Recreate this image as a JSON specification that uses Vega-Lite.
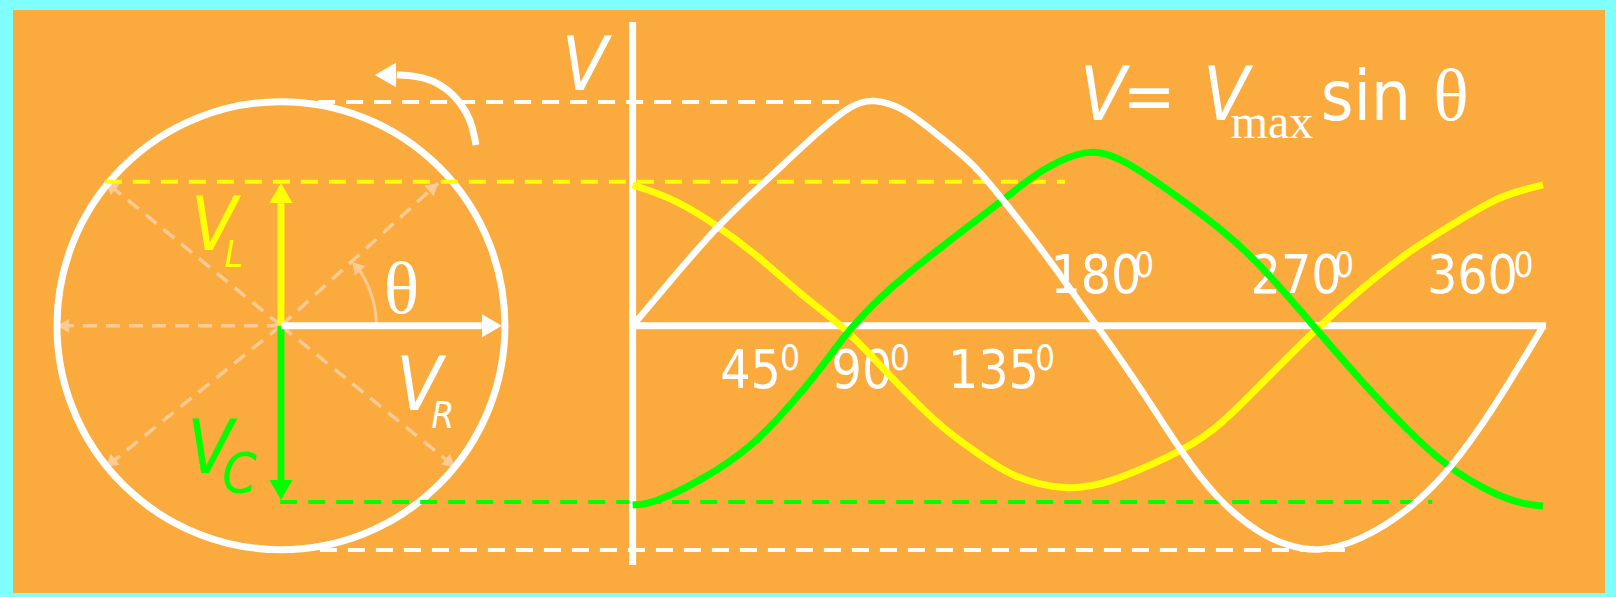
{
  "$schema": "https://vega.github.io/schema/vega-lite/v6.json",
  "width": 1616,
  "height": 597,
  "autosize": {"type": "fit", "contains": "padding"},
  "padding": {"left": 13, "top": 10, "right": 11, "bottom": 4},
  "background": "#80FFFF",
  "config": {"view": {"stroke": null, "fill": "#FBAA3E"}},
  "datasets": {
    "circle": [{"x": -139.0, "y": 0}],
    "spokes": [
      {"x": -139, "y": 0, "x2": -227.5, "y2": 0},
      {"x": -139, "y": 0, "x2": -208.1, "y2": 0.639},
      {"x": -139, "y": 0, "x2": -76.9, "y2": 0.635},
      {"x": -139, "y": 0, "x2": -208.1, "y2": -0.629},
      {"x": -139, "y": 0, "x2": -70.2, "y2": -0.629}
    ],
    "spokeHeads": [
      {"x": -225.1, "y": 0, "phase": 180},
      {"x": -206.4, "y": 0.623, "phase": 140.6},
      {"x": -78.7, "y": 0.618, "phase": 42.1},
      {"x": -206.4, "y": -0.612, "phase": 219.4},
      {"x": -72.1, "y": -0.612, "phase": 320.8},
      {"x": -109.3, "y": 0.264, "phase": 132}
    ],
    "thetaArc": [
      {"i": 0, "x": -101.1, "y": 0.0},
      {"i": 1, "x": -101.7, "y": 0.078},
      {"i": 2, "x": -103.4, "y": 0.149},
      {"i": 3, "x": -106.2, "y": 0.217},
      {"i": 4, "x": -108.3, "y": 0.254}
    ],
    "projections": [
      {"x": -124.3, "y": 0.996, "x2": 86, "y2": 0.996, "quantity": "VR"},
      {"x": -123.6, "y": -0.999, "x2": 281.6, "y2": -0.999, "quantity": "VR"},
      {"x": -208.6, "y": 0.641, "x2": 170.9, "y2": 0.641, "quantity": "VL"},
      {"x": -139.3, "y": -0.785, "x2": 316, "y2": -0.785, "quantity": "VC"}
    ],
    "phasors": [
      {"x": -139, "y": 0, "x2": -139, "y2": 0.546, "quantity": "VL"},
      {"x": -139, "y": 0, "x2": -139, "y2": -0.689, "quantity": "VC"},
      {"x": -139, "y": 0, "x2": -59.6, "y2": 0, "quantity": "VR"}
    ],
    "phasorHeads": [
      {"x": -139, "y": 0.591, "phase": 90, "quantity": "VL"},
      {"x": -139, "y": -0.732, "phase": 270, "quantity": "VC"},
      {"x": -55.6, "y": 0, "phase": 0, "quantity": "VR"}
    ],
    "rotation": [
      {"i": 0, "x": -61.9, "y": 0.805},
      {"i": 1, "x": -63.5, "y": 0.894},
      {"i": 2, "x": -65.5, "y": 0.947},
      {"i": 3, "x": -70.2, "y": 1.028},
      {"i": 4, "x": -78.9, "y": 1.095},
      {"i": 5, "x": -86.0, "y": 1.113},
      {"i": 6, "x": -93.2, "y": 1.117}
    ],
    "rotationHead": [{"x": -97.7, "y": 1.117, "phase": 180}],
    "axes": [
      {"x": 0, "y": 1.353, "x2": 0, "y2": -1.066},
      {"x": 0, "y": 0, "x2": 361, "y2": 0}
    ],
    "degrees": [
      {"x": 46.6, "y": -0.277, "label": "45"},
      {"x": 90.6, "y": -0.277, "label": "90"},
      {"x": 142.6, "y": -0.277, "label": "135"},
      {"x": 183.1, "y": 0.145, "label": "180"},
      {"x": 262.2, "y": 0.145, "label": "270"},
      {"x": 331.9, "y": 0.145, "label": "360"}
    ],
    "degreeSup": [
      {"x": 62.2, "y": -0.197, "label": "0"},
      {"x": 105.6, "y": -0.197, "label": "0"},
      {"x": 163.0, "y": -0.197, "label": "0"},
      {"x": 202.1, "y": 0.217, "label": "0"},
      {"x": 281.2, "y": 0.217, "label": "0"},
      {"x": 352.1, "y": 0.217, "label": "0"}
    ],
    "bigV": [
      {"x": -18.9, "y": 1.05, "label": "V", "quantity": "V"},
      {"x": 185.9, "y": 0.916, "label": "V", "quantity": "V"},
      {"x": 234.5, "y": 0.916, "label": "V", "quantity": "V"},
      {"x": -165.4, "y": 0.337, "label": "V", "quantity": "VL"},
      {"x": -84.3, "y": -0.375, "label": "V", "quantity": "VR"},
      {"x": -166.9, "y": -0.656, "label": "V", "quantity": "VC"}
    ],
    "subs": [
      {"x": -157.6, "y": 0.261, "label": "L", "quantity": "VL"},
      {"x": -75.0, "y": -0.456, "label": "R", "quantity": "VR"}
    ],
    "subC": [{"x": -155.4, "y": -0.741, "label": "C", "quantity": "VC"}],
    "upright": [
      {"x": 204.1, "y": 0.916, "label": "="},
      {"x": 289.8, "y": 0.916, "label": "sin"}
    ],
    "maxSub": [{"x": 252.7, "y": 0.836, "label": "max"}],
    "thetas": [
      {"x": 323.4, "y": 0.916, "label": "θ"},
      {"x": -91.4, "y": 0.057, "label": "θ"}
    ],
    "waves": [
      {"quantity": "VR", "x": 0, "y": 0},
      {"quantity": "VR", "x": 15.0, "y": 0.202},
      {"quantity": "VR", "x": 34.5, "y": 0.458},
      {"quantity": "VR", "x": 54.3, "y": 0.662},
      {"quantity": "VR", "x": 74.0, "y": 0.872},
      {"quantity": "VR", "x": 87.1, "y": 0.99},
      {"quantity": "VR", "x": 95.0, "y": 1.01},
      {"quantity": "VR", "x": 106.8, "y": 0.975},
      {"quantity": "VR", "x": 121.5, "y": 0.84},
      {"quantity": "VR", "x": 134.5, "y": 0.725},
      {"quantity": "VR", "x": 146.4, "y": 0.56},
      {"quantity": "VR", "x": 161.0, "y": 0.351},
      {"quantity": "VR", "x": 174.0, "y": 0.146},
      {"quantity": "VR", "x": 183.5, "y": 0},
      {"quantity": "VR", "x": 200.5, "y": -0.273},
      {"quantity": "VR", "x": 216.3, "y": -0.554},
      {"quantity": "VR", "x": 231.0, "y": -0.776},
      {"quantity": "VR", "x": 248.0, "y": -0.93},
      {"quantity": "VR", "x": 258.6, "y": -0.978},
      {"quantity": "VR", "x": 270.4, "y": -1.01},
      {"quantity": "VR", "x": 287.4, "y": -0.96},
      {"quantity": "VR", "x": 307.2, "y": -0.821},
      {"quantity": "VR", "x": 323.0, "y": -0.643},
      {"quantity": "VR", "x": 340.0, "y": -0.376},
      {"quantity": "VR", "x": 360, "y": 0},
      {"quantity": "VL", "x": 0, "y": 0.627},
      {"quantity": "VL", "x": 14.7, "y": 0.573},
      {"quantity": "VL", "x": 30.5, "y": 0.471},
      {"quantity": "VL", "x": 50.3, "y": 0.306},
      {"quantity": "VL", "x": 67.3, "y": 0.128},
      {"quantity": "VL", "x": 83.9, "y": -0.006},
      {"quantity": "VL", "x": 100.5, "y": -0.211},
      {"quantity": "VL", "x": 121.5, "y": -0.451},
      {"quantity": "VL", "x": 134.5, "y": -0.553},
      {"quantity": "VL", "x": 150.3, "y": -0.68},
      {"quantity": "VL", "x": 171.6, "y": -0.735},
      {"quantity": "VL", "x": 187.5, "y": -0.705},
      {"quantity": "VL", "x": 212.4, "y": -0.584},
      {"quantity": "VL", "x": 229.4, "y": -0.478},
      {"quantity": "VL", "x": 248.0, "y": -0.264},
      {"quantity": "VL", "x": 270.5, "y": -0.01},
      {"quantity": "VL", "x": 287.4, "y": 0.159},
      {"quantity": "VL", "x": 307.2, "y": 0.337},
      {"quantity": "VL", "x": 327.0, "y": 0.471},
      {"quantity": "VL", "x": 342.8, "y": 0.58},
      {"quantity": "VL", "x": 359.8, "y": 0.627},
      {"quantity": "VC", "x": 0, "y": -0.799},
      {"quantity": "VC", "x": 8.0, "y": -0.793},
      {"quantity": "VC", "x": 27.6, "y": -0.687},
      {"quantity": "VC", "x": 47.3, "y": -0.54},
      {"quantity": "VC", "x": 63.1, "y": -0.344},
      {"quantity": "VC", "x": 74.0, "y": -0.197},
      {"quantity": "VC", "x": 85.9, "y": -0.01},
      {"quantity": "VC", "x": 100.5, "y": 0.159},
      {"quantity": "VC", "x": 121.5, "y": 0.346},
      {"quantity": "VC", "x": 134.5, "y": 0.458},
      {"quantity": "VC", "x": 148.0, "y": 0.573},
      {"quantity": "VC", "x": 161.0, "y": 0.694},
      {"quantity": "VC", "x": 176.8, "y": 0.775},
      {"quantity": "VC", "x": 184.7, "y": 0.775},
      {"quantity": "VC", "x": 193.8, "y": 0.742},
      {"quantity": "VC", "x": 213.5, "y": 0.591},
      {"quantity": "VC", "x": 233.3, "y": 0.426},
      {"quantity": "VC", "x": 248.4, "y": 0.27},
      {"quantity": "VC", "x": 270.5, "y": -0.019},
      {"quantity": "VC", "x": 287.4, "y": -0.241},
      {"quantity": "VC", "x": 307.2, "y": -0.477},
      {"quantity": "VC", "x": 321.8, "y": -0.629},
      {"quantity": "VC", "x": 340.0, "y": -0.75},
      {"quantity": "VC", "x": 352.0, "y": -0.795},
      {"quantity": "VC", "x": 359.8, "y": -0.803}
    ]
  },
  "encoding": {
    "x": {"field": "x", "type": "quantitative", "scale": {"domain": [-244.9, 384.3], "nice": false, "zero": false}, "axis": null},
    "y": {"field": "y", "type": "quantitative", "scale": {"domain": [-1.1906, 1.4062], "nice": false, "zero": false}, "axis": null}
  },
  "layer": [
    {
      "data": {"name": "spokes"},
      "mark": {"type": "rule", "color": "#FDCB93", "strokeWidth": 3.5, "strokeDash": [14, 9]},
      "encoding": {"x2": {"field": "x2"}, "y2": {"field": "y2"}}
    },
    {
      "data": {"name": "thetaArc"},
      "mark": {"type": "line", "color": "#FDCB93", "strokeWidth": 3, "interpolate": "basis"},
      "encoding": {"order": {"field": "i", "type": "quantitative"}}
    },
    {
      "data": {"name": "spokeHeads"},
      "mark": {"type": "point", "shape": "triangle-up", "filled": true, "color": "#FDCB93", "size": 196, "opacity": 1},
      "encoding": {"angle": {"field": "phase", "type": "quantitative", "scale": {"domain": [0, 360], "range": [90, -270]}}}
    },
    {
      "data": {"name": "circle"},
      "mark": {"type": "point", "shape": "circle", "filled": false, "color": "#FFFFFF", "strokeWidth": 7, "size": 200704, "opacity": 1}
    },
    {
      "data": {"name": "projections"},
      "mark": {"type": "rule", "strokeWidth": 4, "strokeDash": [17, 11]},
      "encoding": {
        "x2": {"field": "x2"}, "y2": {"field": "y2"},
        "color": {"field": "quantity", "type": "nominal", "scale": {"domain": ["VL", "VC", "VR", "V"], "range": ["#FFFF00", "#00FF00", "#FFFFFF", "#FFFFFF"]}, "legend": null}
      }
    },
    {
      "data": {"name": "phasors"},
      "mark": {"type": "rule", "strokeWidth": 7},
      "encoding": {
        "x2": {"field": "x2"}, "y2": {"field": "y2"},
        "color": {"field": "quantity", "type": "nominal", "legend": null}
      }
    },
    {
      "data": {"name": "phasorHeads"},
      "mark": {"type": "point", "shape": "triangle-up", "filled": true, "size": 529, "opacity": 1},
      "encoding": {
        "color": {"field": "quantity", "type": "nominal", "legend": null},
        "angle": {"field": "phase", "type": "quantitative"}
      }
    },
    {
      "data": {"name": "rotation"},
      "mark": {"type": "line", "color": "#FFFFFF", "strokeWidth": 7, "interpolate": "basis"},
      "encoding": {"order": {"field": "i", "type": "quantitative"}}
    },
    {
      "data": {"name": "rotationHead"},
      "mark": {"type": "point", "shape": "triangle-up", "filled": true, "color": "#FFFFFF", "size": 600, "opacity": 1},
      "encoding": {"angle": {"field": "phase", "type": "quantitative"}}
    },
    {
      "data": {"name": "axes"},
      "mark": {"type": "rule", "color": "#FFFFFF", "strokeWidth": 7},
      "encoding": {"x2": {"field": "x2"}, "y2": {"field": "y2"}}
    },
    {
      "data": {"name": "degrees"},
      "mark": {"type": "text", "font": "DejaVu Sans Condensed, Liberation Sans", "fontSize": 53, "color": "#FFFFFF", "align": "center", "baseline": "alphabetic"},
      "encoding": {"text": {"field": "label"}}
    },
    {
      "data": {"name": "degreeSup"},
      "mark": {"type": "text", "font": "DejaVu Sans Condensed, Liberation Sans", "fontSize": 35, "color": "#FFFFFF", "align": "center", "baseline": "alphabetic"},
      "encoding": {"text": {"field": "label"}}
    },
    {
      "data": {"name": "waves"},
      "transform": [{"filter": "datum.quantity === 'VL'"}],
      "mark": {"type": "line", "strokeWidth": 7, "interpolate": "basis"},
      "encoding": {"color": {"field": "quantity", "type": "nominal", "legend": null}}
    },
    {
      "data": {"name": "waves"},
      "transform": [{"filter": "datum.quantity === 'VC'"}],
      "mark": {"type": "line", "strokeWidth": 7, "interpolate": "basis"},
      "encoding": {"color": {"field": "quantity", "type": "nominal", "legend": null}}
    },
    {
      "data": {"name": "waves"},
      "transform": [{"filter": "datum.quantity === 'VR'"}],
      "mark": {"type": "line", "strokeWidth": 6.5, "interpolate": "basis"},
      "encoding": {"color": {"field": "quantity", "type": "nominal", "legend": null}}
    },
    {
      "data": {"name": "bigV"},
      "mark": {"type": "text", "font": "DejaVu Sans Condensed, Liberation Sans", "fontStyle": "italic", "fontSize": 75, "align": "center", "baseline": "alphabetic"},
      "encoding": {"text": {"field": "label"}, "color": {"field": "quantity", "type": "nominal", "legend": null}}
    },
    {
      "data": {"name": "subs"},
      "mark": {"type": "text", "font": "DejaVu Sans Condensed, Liberation Sans", "fontStyle": "italic", "fontSize": 37, "align": "center", "baseline": "alphabetic"},
      "encoding": {"text": {"field": "label"}, "color": {"field": "quantity", "type": "nominal", "legend": null}}
    },
    {
      "data": {"name": "subC"},
      "mark": {"type": "text", "font": "DejaVu Sans Condensed, Liberation Sans", "fontStyle": "italic", "fontSize": 55, "align": "center", "baseline": "alphabetic"},
      "encoding": {"text": {"field": "label"}, "color": {"field": "quantity", "type": "nominal", "legend": null}}
    },
    {
      "data": {"name": "upright"},
      "mark": {"type": "text", "font": "DejaVu Sans Condensed, Liberation Sans", "fontSize": 70, "color": "#FFFFFF", "align": "center", "baseline": "alphabetic"},
      "encoding": {"text": {"field": "label"}}
    },
    {
      "data": {"name": "maxSub"},
      "mark": {"type": "text", "font": "Liberation Serif", "fontSize": 48, "color": "#FFFFFF", "align": "center", "baseline": "alphabetic"},
      "encoding": {"text": {"field": "label"}}
    },
    {
      "data": {"name": "thetas"},
      "mark": {"type": "text", "font": "Liberation Serif", "fontSize": 74, "color": "#FFFFFF", "align": "center", "baseline": "alphabetic"},
      "encoding": {"text": {"field": "label"}}
    }
  ]
}
